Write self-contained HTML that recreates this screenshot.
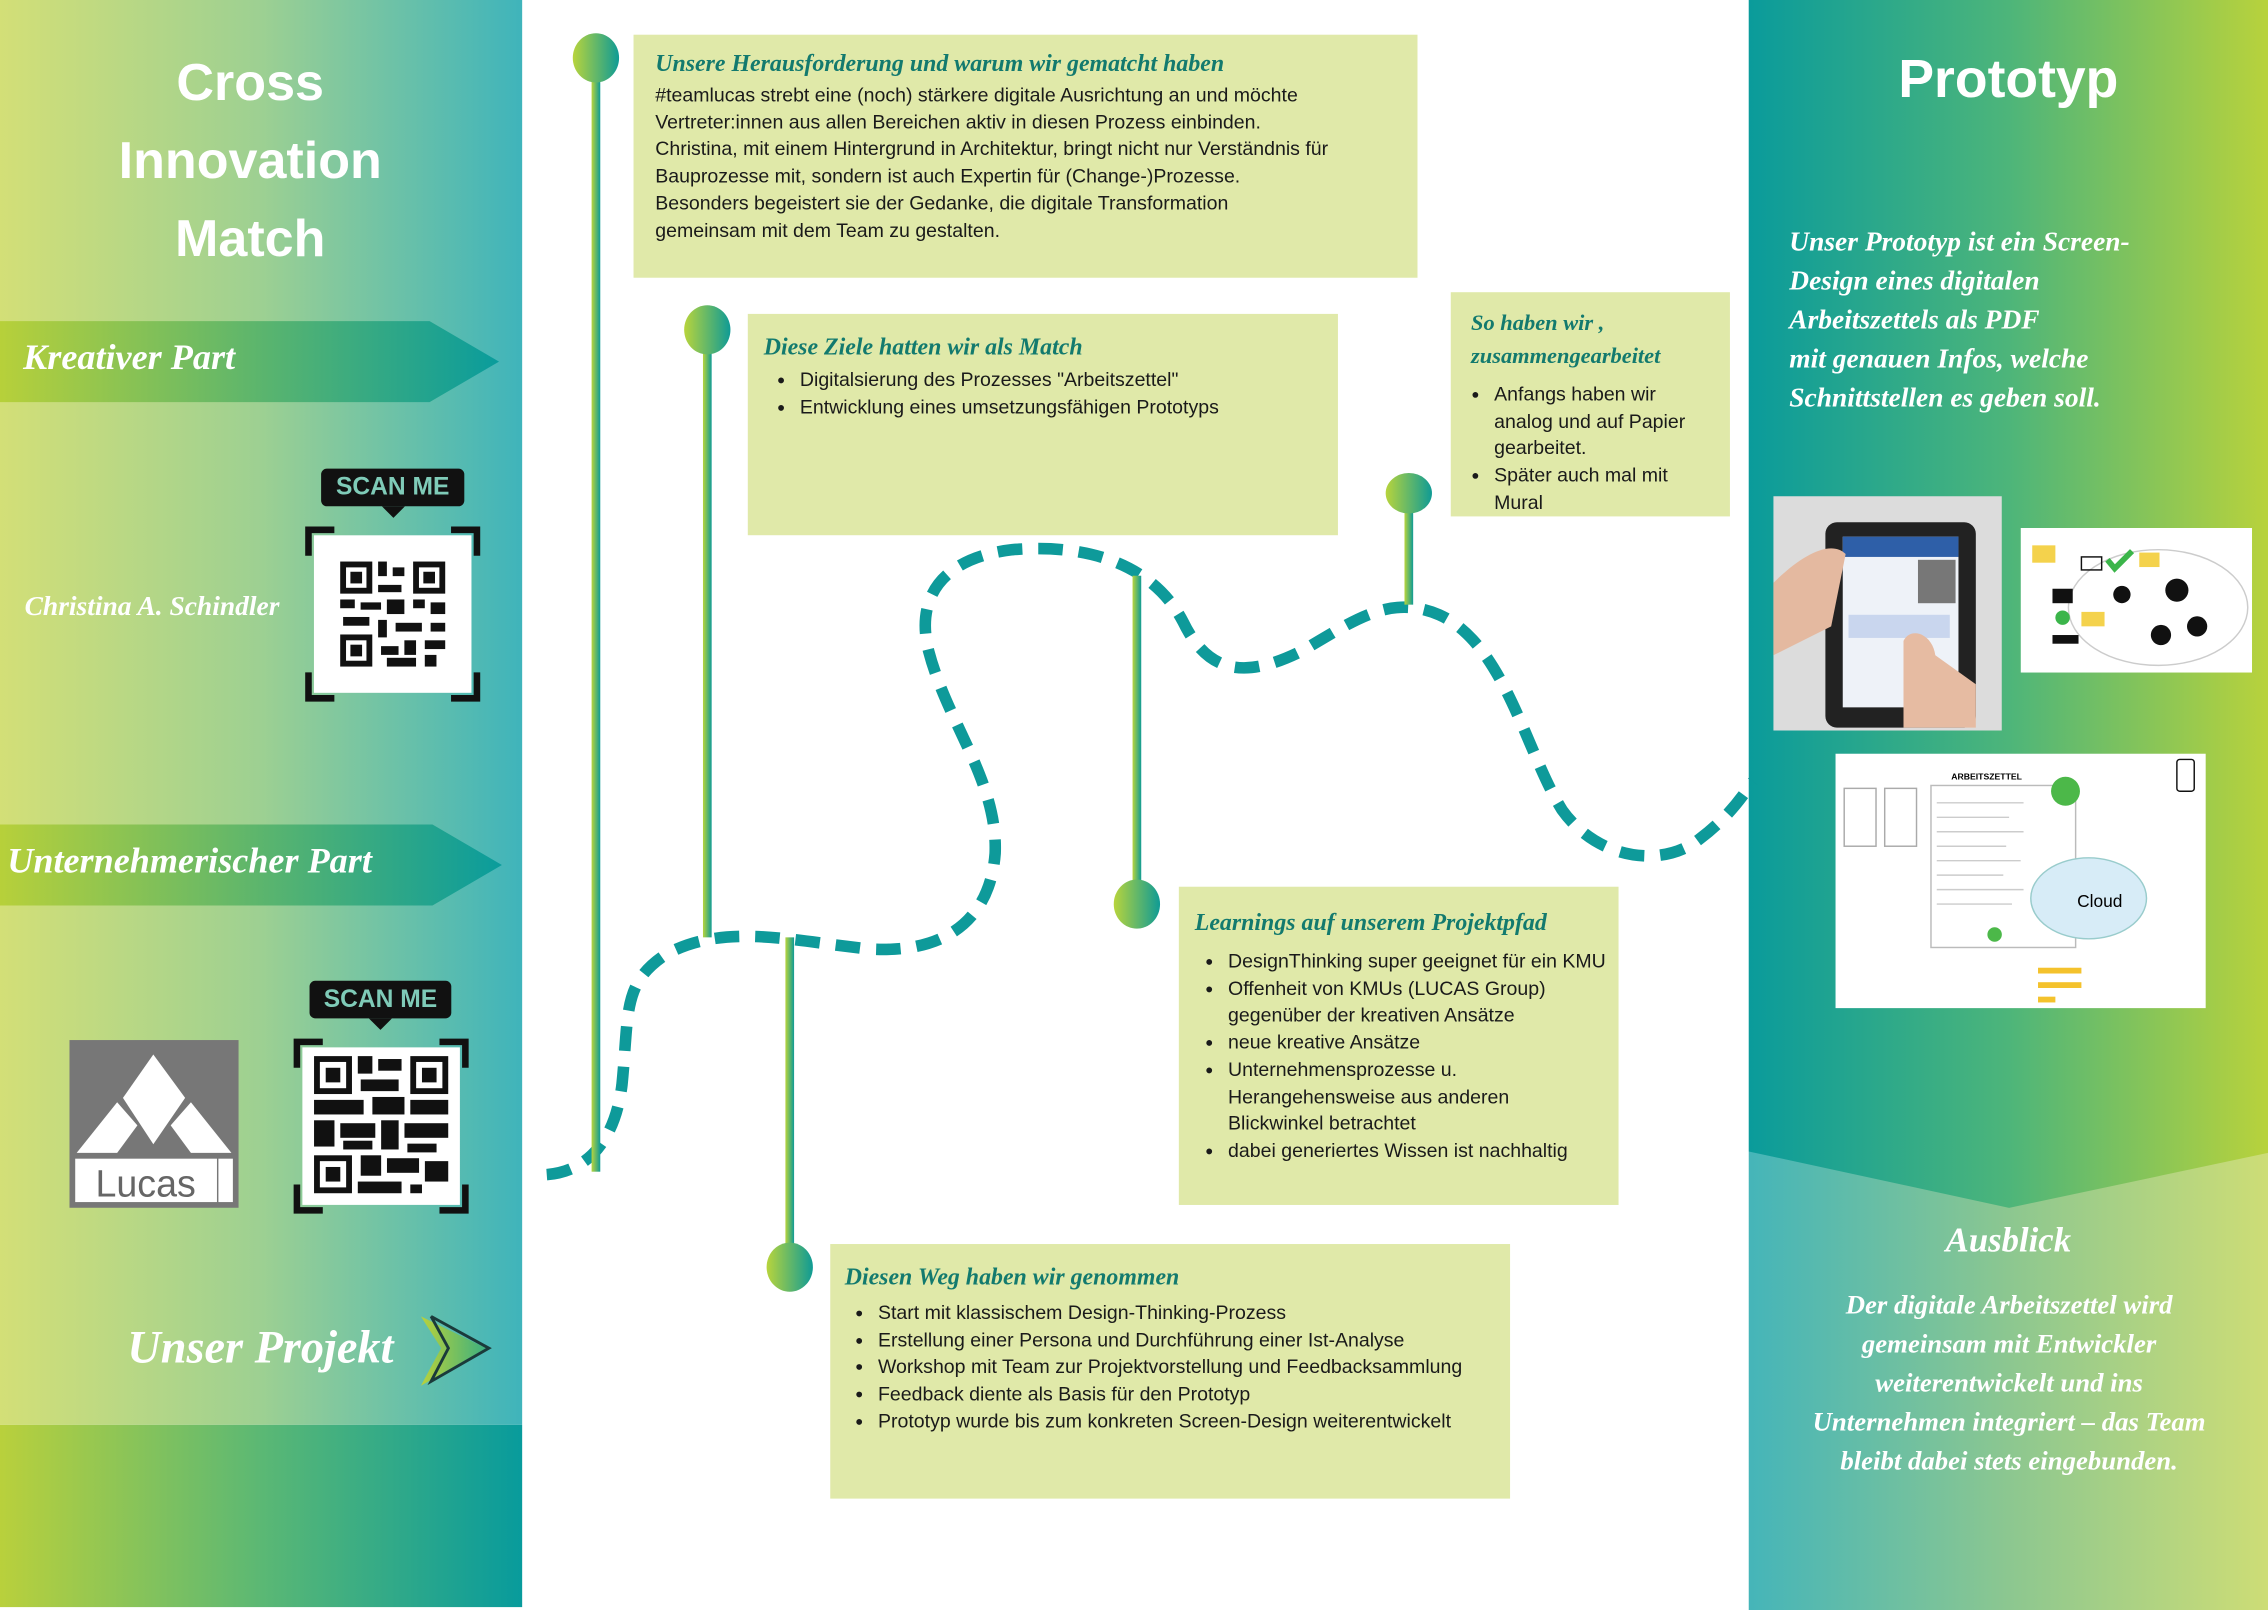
<!DOCTYPE html>
<html><head><meta charset="utf-8">
<style>
html,body{margin:0;padding:0;background:#fff;width:2268px;height:1610px;overflow:hidden}
#s{position:absolute;left:0;top:0;width:1568px;height:1113px;transform:scale(1.44643,1.44654);transform-origin:0 0;font-family:"Liberation Sans",sans-serif}
.a{position:absolute}
.box{position:absolute;background:#e0e9a9}
.h{font-family:"Liberation Serif",serif;font-style:italic;font-weight:bold;color:#137a6e;font-size:16.5px}
.t{font-family:"Liberation Sans Narrow","Liberation Sans",sans-serif;font-size:13.5px;color:#1a1a1a;line-height:18.7px;white-space:nowrap}
ul{margin:0;padding-left:36px}
.w{color:#fff;font-family:"Liberation Serif",serif;font-style:italic;font-weight:bold}
.scan{position:absolute;background:#111;border-radius:4px;color:#7fcbb8;font-weight:bold;font-size:17px;text-align:center;line-height:26px}
.scan:after{content:"";position:absolute;left:50%;bottom:-8px;margin-left:-8px;border:8px solid transparent;border-bottom:0;border-top-color:#111}
</style></head><body><div id="s">
<!-- left panel -->
<div class="a" style="left:0;top:0;width:361px;height:985px;background:linear-gradient(90deg,#d3df77,#9dd092 50%,#3fb4bb)"></div>
<div class="a" style="left:0;top:985px;width:361px;height:126px;background:linear-gradient(90deg,#b9d03c,#5bb874 50%,#089b9c)"></div>
<div class="a w" style="left:0;top:30px;width:346px;text-align:center;font-family:'Liberation Sans',sans-serif;font-style:normal;font-size:36px;line-height:54px">Cross<br>Innovation<br>Match</div>
<svg class="a" style="left:0;top:0" width="361" height="1113">
<defs><linearGradient id="rb" x1="0" x2="1"><stop offset="0" stop-color="#b7d03a"/><stop offset=".5" stop-color="#5fb66b"/><stop offset="1" stop-color="#0a9c9c"/></linearGradient>
<linearGradient id="ar" x1="0" x2="1"><stop offset="0" stop-color="#b9d23b"/><stop offset="1" stop-color="#3cb07f"/></linearGradient></defs>
<polygon points="0,222 297,222 345,250 297,278 0,278" fill="url(#rb)"/>
<polygon points="0,570 299,570 347,598 299,626 0,626" fill="url(#rb)"/>
<polygon points="291,910 336,932 291,958 305,932" fill="url(#ar)"/>
<polyline points="298,910 338,932 298,955 310,932 298,910" fill="none" stroke="#1b3a3a" stroke-width="2"/>
</svg>
<div class="a w" style="left:16px;top:234px;font-size:25px">Kreativer Part</div>
<div class="a w" style="left:5px;top:582px;font-size:25px">Unternehmerischer Part</div>
<div class="a w" style="left:17px;top:409px;font-size:19px">Christina A. Schindler</div>
<div class="a w" style="left:0;width:272px;text-align:right;top:913px;font-size:32px">Unser Projekt</div>
<div class="scan" style="left:222px;top:324px;width:99px">SCAN ME</div>
<div class="scan" style="left:214px;top:678px;width:98px">SCAN ME</div>
<!-- QR frames -->
<svg class="a" style="left:211px;top:364px" width="121" height="121" viewBox="0 0 120 120">
<rect x="6" y="6" width="108" height="108" fill="#fff"/>
<path d="M2 20V2H20M100 2H118V20M118 100V118H100M20 118H2V100" fill="none" stroke="#111" stroke-width="5"/>
<g fill="#111"><rect x="24" y="24" width="22" height="22"/><rect x="74" y="24" width="22" height="22"/><rect x="24" y="74" width="22" height="22"/></g>
<g fill="#fff"><rect x="28" y="28" width="14" height="14"/><rect x="78" y="28" width="14" height="14"/><rect x="28" y="78" width="14" height="14"/></g>
<g fill="#111"><rect x="31" y="31" width="8" height="8"/><rect x="81" y="31" width="8" height="8"/><rect x="31" y="81" width="8" height="8"/>
<rect x="50" y="24" width="6" height="10"/><rect x="60" y="28" width="8" height="6"/><rect x="50" y="40" width="16" height="5"/><rect x="24" y="50" width="10" height="6"/><rect x="38" y="52" width="14" height="5"/><rect x="56" y="50" width="12" height="10"/><rect x="74" y="50" width="8" height="6"/><rect x="86" y="52" width="10" height="8"/><rect x="26" y="62" width="18" height="6"/><rect x="50" y="64" width="6" height="12"/><rect x="62" y="66" width="18" height="6"/><rect x="86" y="66" width="10" height="6"/><rect x="52" y="82" width="12" height="6"/><rect x="68" y="78" width="8" height="10"/><rect x="82" y="78" width="14" height="6"/><rect x="56" y="90" width="20" height="6"/><rect x="82" y="88" width="8" height="8"/></g>
</svg>
<svg class="a" style="left:203px;top:718px" width="121" height="121" viewBox="0 0 120 120">
<rect x="6" y="6" width="108" height="108" fill="#fff"/>
<path d="M2 20V2H20M100 2H118V20M118 100V118H100M20 118H2V100" fill="none" stroke="#111" stroke-width="5"/>
<g fill="#111"><rect x="14" y="12" width="26" height="26"/><rect x="80" y="12" width="26" height="26"/><rect x="14" y="80" width="26" height="26"/></g>
<g fill="#fff"><rect x="18" y="16" width="18" height="18"/><rect x="84" y="16" width="18" height="18"/><rect x="18" y="84" width="18" height="18"/></g>
<g fill="#111"><rect x="22" y="20" width="10" height="10"/><rect x="88" y="20" width="10" height="10"/><rect x="22" y="88" width="10" height="10"/>
<rect x="44" y="12" width="10" height="12"/><rect x="58" y="14" width="16" height="8"/><rect x="46" y="28" width="26" height="8"/><rect x="14" y="42" width="34" height="10"/><rect x="54" y="40" width="22" height="12"/><rect x="80" y="42" width="26" height="10"/><rect x="14" y="56" width="14" height="18"/><rect x="32" y="58" width="24" height="10"/><rect x="60" y="56" width="12" height="20"/><rect x="76" y="58" width="30" height="10"/><rect x="34" y="70" width="20" height="6"/><rect x="78" y="72" width="20" height="6"/><rect x="46" y="80" width="14" height="14"/><rect x="64" y="82" width="22" height="10"/><rect x="90" y="84" width="16" height="14"/><rect x="44" y="98" width="30" height="8"/><rect x="80" y="100" width="8" height="6"/></g>
</svg>
<!-- Lucas logo -->
<svg class="a" style="left:48px;top:719px" width="117" height="116" viewBox="0 0 117 116">
<rect width="117" height="116" fill="#777"/>
<polygon points="5,78 33,43 47,59 33,78" fill="#fff"/>
<polygon points="37,40 58,10 80,40 58,72" fill="#fff"/>
<polygon points="84,43 112,78 84,78 70,59" fill="#fff"/>
<rect x="4" y="82" width="98" height="30" fill="#fff"/>
<rect x="103" y="82" width="10" height="30" fill="#fff"/>
<text x="18" y="108" font-family="Liberation Sans" font-size="26" fill="#666">Lucas</text>
</svg>
<!-- right panel -->
<div class="a" style="left:1209px;top:0;width:359px;height:1113px;background:linear-gradient(90deg,#45b5b9,#8cc790 50%,#cddd76)"></div>
<svg class="a" style="left:1209px;top:0" width="359" height="840">
<defs><linearGradient id="rt" x1="0" x2="1"><stop offset="0" stop-color="#0a9b9b"/><stop offset=".5" stop-color="#4db57a"/><stop offset="1" stop-color="#b8d23c"/></linearGradient></defs>
<polygon points="0,0 359,0 359,797 180,835 0,796" fill="url(#rt)"/>
</svg>
<div class="a" style="left:1209px;top:34px;width:359px;text-align:center;color:#fff;font-weight:bold;font-size:37px">Prototyp</div>
<div class="a w" style="left:1237px;top:154px;font-size:19px;line-height:27px">Unser Prototyp ist ein Screen-<br>Design eines digitalen<br>Arbeitszettels als PDF<br>mit genauen Infos, welche<br>Schnittstellen es geben soll.</div>
<div class="a w" style="left:1209px;width:359px;text-align:center;top:845px;font-size:24px">Ausblick</div>
<div class="a w" style="left:1229px;width:320px;text-align:center;top:890px;font-size:18.5px;line-height:27px">Der digitale Arbeitszettel wird<br>gemeinsam mit Entwickler<br>weiterentwickelt und ins<br>Unternehmen integriert – das Team<br>bleibt dabei stets eingebunden.</div>
<!-- images -->
<svg class="a" style="left:1226px;top:343px" width="158" height="162">
<rect width="158" height="162" fill="#dcdcdc"/>
<rect x="36" y="18" width="104" height="142" rx="8" fill="#222"/>
<rect x="48" y="28" width="80" height="118" fill="#eef2f8"/>
<rect x="48" y="28" width="80" height="14" fill="#2e5fa8"/>
<rect x="100" y="44" width="26" height="30" fill="#777"/>
<rect x="52" y="82" width="70" height="16" fill="#c9d6ee"/>
<path d="M0 60 C20 40 40 30 50 40 L40 90 L0 110Z" fill="#e4b9a0"/>
<path d="M90 160 L90 100 C95 90 110 95 112 110 L140 130 L140 160Z" fill="#e6bba2"/>
</svg>
<svg class="a" style="left:1397px;top:365px" width="160" height="100">
<rect width="160" height="100" fill="#fff"/>
<ellipse cx="95" cy="55" rx="62" ry="40" fill="none" stroke="#ccc"/>
<rect x="8" y="12" width="16" height="12" fill="#f4d24c"/><rect x="82" y="17" width="14" height="10" fill="#f4d24c"/><rect x="42" y="58" width="16" height="10" fill="#f4d24c"/>
<circle cx="108" cy="43" r="8" fill="#111"/><circle cx="70" cy="46" r="6" fill="#111"/><circle cx="97" cy="74" r="7" fill="#111"/><circle cx="122" cy="68" r="7" fill="#111"/>
<rect x="22" y="42" width="14" height="10" fill="#111"/><rect x="42" y="20" width="14" height="9" fill="none" stroke="#111"/><rect x="22" y="74" width="18" height="6" fill="#111"/>
<path d="M60 22 l5 6 l12 -12" stroke="#3bb54a" stroke-width="4" fill="none"/><circle cx="29" cy="62" r="5" fill="#3bb54a"/>
</svg>
<svg class="a" style="left:1269px;top:521px" width="256" height="176">
<rect width="256" height="176" fill="#fff"/>
<text x="80" y="18" font-size="6" font-weight="bold" font-family="Liberation Sans">ARBEITSZETTEL</text>
<rect x="6" y="24" width="22" height="40" fill="none" stroke="#aaa"/><rect x="34" y="24" width="22" height="40" fill="none" stroke="#aaa"/>
<rect x="66" y="22" width="100" height="112" fill="none" stroke="#bbb"/>
<g stroke="#ccc"><line x1="70" y1="34" x2="130" y2="34"/><line x1="70" y1="44" x2="120" y2="44"/><line x1="70" y1="54" x2="130" y2="54"/><line x1="70" y1="64" x2="118" y2="64"/><line x1="70" y1="74" x2="128" y2="74"/><line x1="70" y1="84" x2="116" y2="84"/><line x1="70" y1="94" x2="130" y2="94"/><line x1="70" y1="104" x2="122" y2="104"/></g>
<ellipse cx="175" cy="100" rx="40" ry="28" fill="#d7ecf7" stroke="#9cc"/>
<text x="167" y="106" font-size="12" font-family="Liberation Sans">Cloud</text>
<circle cx="159" cy="26" r="10" fill="#4cb849"/>
<rect x="236" y="4" width="12" height="22" rx="2" fill="none" stroke="#111"/>
<circle cx="110" cy="125" r="5" fill="#4cb849"/>
<g fill="#f4c22c"><rect x="140" y="148" width="30" height="4"/><rect x="140" y="158" width="30" height="4"/><rect x="140" y="168" width="12" height="4"/></g>
</svg>
<!-- boxes -->
<div class="box" style="left:438px;top:24px;width:542px;height:168px"></div>
<div class="a h" style="left:453px;top:34px">Unsere Herausforderung und warum wir gematcht haben</div>
<div class="a t" style="left:453px;top:57px;width:520px">#teamlucas strebt eine (noch) stärkere digitale Ausrichtung an und möchte<br>Vertreter:innen aus allen Bereichen aktiv in diesen Prozess einbinden.<br>Christina, mit einem Hintergrund in Architektur, bringt nicht nur Verständnis für<br>Bauprozesse mit, sondern ist auch Expertin für (Change-)Prozesse.<br>Besonders begeistert sie der Gedanke, die digitale Transformation<br>gemeinsam mit dem Team zu gestalten.</div>
<div class="box" style="left:517px;top:217px;width:408px;height:153px"></div>
<div class="a h" style="left:528px;top:230px">Diese Ziele hatten wir als Match</div>
<div class="a t" style="left:517px;top:254px"><ul><li>Digitalsierung des Prozesses "Arbeitszettel"</li><li>Entwicklung eines umsetzungsfähigen Prototyps</li></ul></div>
<div class="box" style="left:1003px;top:202px;width:193px;height:155px"></div>
<div class="a h" style="left:1017px;top:212px;line-height:23px;font-size:15.5px">So haben wir ,<br>zusammengearbeitet</div>
<div class="a t" style="left:997px;top:264px;width:195px"><ul><li>Anfangs haben wir<br>analog und auf Papier<br>gearbeitet.</li><li>Später auch mal mit<br>Mural</li></ul></div>
<div class="box" style="left:815px;top:613px;width:304px;height:220px"></div>
<div class="a h" style="left:826px;top:628px">Learnings auf unserem Projektpfad</div>
<div class="a t" style="left:813px;top:656px;width:304px"><ul><li>DesignThinking super geeignet für ein KMU</li><li>Offenheit von KMUs (LUCAS Group)<br>gegenüber der kreativen Ansätze</li><li>neue kreative Ansätze</li><li>Unternehmensprozesse u.<br>Herangehensweise aus anderen<br>Blickwinkel betrachtet</li><li>dabei generiertes Wissen ist nachhaltig</li></ul></div>
<div class="box" style="left:574px;top:860px;width:470px;height:176px"></div>
<div class="a h" style="left:584px;top:873px">Diesen Weg haben wir genommen</div>
<div class="a t" style="left:571px;top:899px;width:470px"><ul><li>Start mit klassischem Design-Thinking-Prozess</li><li>Erstellung einer Persona und Durchführung einer Ist-Analyse</li><li>Workshop mit Team zur Projektvorstellung und Feedbacksammlung</li><li>Feedback diente als Basis für den Prototyp</li><li>Prototyp wurde bis zum konkreten Screen-Design weiterentwickelt</li></ul></div>
<!-- path & pins -->
<svg class="a" style="left:0;top:0" width="1568" height="1113">
<defs><linearGradient id="pg" x1="0" x2="1"><stop offset="0" stop-color="#b8d43c"/><stop offset="1" stop-color="#0f9b95"/></linearGradient></defs>
<path d="M378 812 C405 810 425 790 430 750 C435 700 430 680 460 660 C500 638 545 650 600 656 C660 660 685 630 688 590 C690 540 655 500 642 450 C632 410 655 385 700 380 C760 375 800 395 818 430 C835 465 860 470 900 450 C935 430 960 410 995 425 C1040 445 1055 520 1080 560 C1105 595 1150 600 1175 580 C1195 565 1205 550 1212 540" fill="none" stroke="#0e9a9a" stroke-width="8" stroke-dasharray="17 11"/>
<g fill="url(#pg)">
<rect x="409" y="50" width="6" height="760"/><ellipse cx="412" cy="40" rx="16" ry="17"/>
<rect x="486" y="236" width="6" height="412"/><ellipse cx="489" cy="228" rx="16" ry="17"/>
<rect x="783" y="398" width="6" height="225"/><ellipse cx="786" cy="625" rx="16" ry="17"/>
<rect x="971" y="345" width="6" height="73"/><ellipse cx="974" cy="341" rx="16" ry="14"/>
<rect x="543" y="648" width="6" height="225"/><ellipse cx="546" cy="876" rx="16" ry="17"/>
</g>
</svg>
</div></body></html>
